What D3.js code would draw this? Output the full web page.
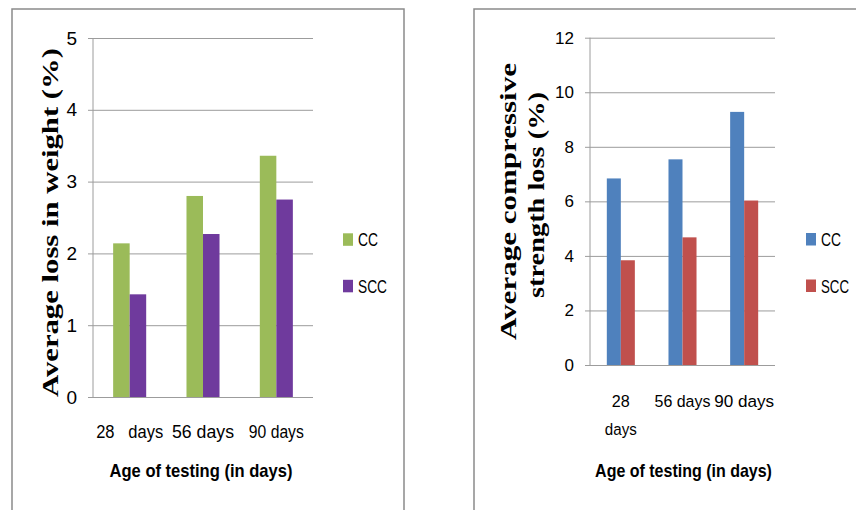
<!DOCTYPE html>
<html>
<head>
<meta charset="utf-8">
<script src="https://cdn.jsdelivr.net/npm/d3@7"></script>
<style>
  html, body { margin: 0; padding: 0; background: #fff; }
  svg { display: block; }
</style>
</head>
<body>
<svg id="chart" width="856" height="510"></svg>
<script>
// ---------- DATA ----------
const categories = ["28 days", "56 days", "90 days"];
const series = ["CC", "SCC"];
const weightCC = [2.14, 2.80, 3.36];
const weightSCC = [1.43, 2.27, 2.75];
const strengthCC = [6.84, 7.54, 9.28];
const strengthSCC = [3.84, 4.68, 6.03];
const weightTicks = [0, 1, 2, 3, 4, 5];
const strengthTicks = [0, 2, 4, 6, 8, 10, 12];
const leftCatLabels = [["28   days"], ["56 days"], ["90 days"]];
const rightCatLabels = [["28", "days"], ["56 days"], ["90 days"]];

const svg = d3.select("#chart");
const SANS = "'Liberation Sans', Arial, sans-serif";
const SERIF = "'Liberation Serif', 'Times New Roman', serif";

// text fitted to a given width by horizontal scaling (keeps a true bounding box)
function addText(g, x, y, str, o) {
  const t = g.append("text")
    .attr("x", 0).attr("y", 0)
    .attr("font-family", o.family || SANS)
    .attr("font-size", o.size)
    .attr("font-weight", o.weight || "normal")
    .attr("text-anchor", o.anchor || "middle")
    .attr("fill", o.fill || "#000")
    .style("white-space", "pre")
    .text(str);
  let sx = 1;
  if (o.width) {
    const natural = t.node().getComputedTextLength();
    if (natural > 0) sx = o.width / natural;
  }
  const rot = o.rotate ? " rotate(-90)" : "";
  t.attr("transform", `translate(${x},${y})${rot} scale(${sx},1)`);
  return t;
}

function drawChart(cfg) {
  const g = svg.append("g");
  // outer frame
  g.append("rect")
    .attr("x", cfg.frame[0]).attr("y", cfg.frame[1])
    .attr("width", cfg.frame[2]).attr("height", cfg.frame[3])
    .attr("fill", "none").attr("stroke", "#8a8a8a").attr("stroke-width", 1.5);

  const x0 = d3.scaleBand().domain(categories).range([cfg.left, cfg.right]).padding(0);
  const x1 = d3.scaleBand().domain(series).range([0, x0.bandwidth()])
    .paddingInner(0).paddingOuter(cfg.outerPad);
  const y = d3.scaleLinear().domain([0, cfg.max]).range([cfg.bottom, cfg.top]);

  // gridlines + tick stubs + labels via axis
  const axis = d3.axisLeft(y).tickValues(cfg.ticks)
    .tickSizeInner(cfg.right - cfg.left + 5).tickSizeOuter(0)
    .tickPadding(cfg.tickPad).tickFormat(d3.format("d"));
  const ag = g.append("g").attr("transform", `translate(${cfg.right},0)`).call(axis);
  ag.select(".domain").remove();
  ag.selectAll(".tick line").attr("stroke", "#9c9c9c").attr("stroke-width", 1);
  ag.selectAll(".tick text")
    .attr("font-family", SANS).attr("font-size", cfg.tickSize).attr("fill", "#000");

  // vertical value axis line
  g.append("line")
    .attr("x1", cfg.left).attr("x2", cfg.left)
    .attr("y1", y(cfg.max)).attr("y2", y(0))
    .attr("stroke", "#9c9c9c").attr("stroke-width", 1);

  // bars
  const rows = categories.map((c, i) => ({ cat: c, vals: [cfg.a[i], cfg.b[i]] }));
  const grp = g.selectAll(".grp").data(rows).join("g")
    .attr("transform", d => `translate(${x0(d.cat)},0)`);
  grp.selectAll("rect").data(d => d.vals.map((v, j) => ({ s: series[j], v })))
    .join("rect")
    .attr("x", d => x1(d.s))
    .attr("width", x1.bandwidth())
    .attr("y", d => y(d.v))
    .attr("height", d => y(0) - y(d.v))
    .attr("fill", (d, j) => cfg.colors[j]);

  // category labels
  categories.forEach((c, i) => {
    const cx = x0(c) + x0.bandwidth() / 2;
    cfg.catLabels[i].forEach((line, k) => {
      addText(g, cx, cfg.catBase + k * cfg.catLineH, line,
        { size: cfg.catSize, width: cfg.catWidths[i][k] });
    });
  });

  // x title
  addText(g, (cfg.left + cfg.right) / 2 + cfg.xTitleShift, 477, "Age of testing (in days)",
    { size: 18, weight: "bold", width: cfg.xTitleW });

  // y title
  cfg.yTitle.forEach(t => {
    addText(g, t.x, t.cy, t.text,
      { size: t.size, weight: "bold", family: SERIF, width: t.w, rotate: true });
  });

  // legend
  series.forEach((s, j) => {
    g.append("rect")
      .attr("x", cfg.legX).attr("y", cfg.legY[j])
      .attr("width", 10).attr("height", 12.5)
      .attr("fill", cfg.colors[j]);
    addText(g, cfg.legX + 15, cfg.legY[j] + 13, s,
      { size: 18, anchor: "start", width: cfg.legW[j] });
  });
}

drawChart({
  frame: [12, 9, 392, 600],
  left: 93, right: 313, top: 38, bottom: 397,
  max: 5, ticks: weightTicks, tickPad: 11, tickSize: 19,
  outerPad: 1.22,
  a: weightCC, b: weightSCC,
  colors: ["#9BBB59", "#6F3A9D"],
  catLabels: leftCatLabels, catBase: 438, catLineH: 0, catSize: 18.5,
  catWidths: [[67], [62], [55]],
  xTitleShift: -2, xTitleW: 183,
  yTitle: [{ text: "Average loss in weight (%)", x: 58, cy: 222.5, size: 24, w: 349 }],
  legX: 343, legY: [233.3, 279.8], legW: [20, 29]
});

drawChart({
  frame: [474, 9, 500, 600],
  left: 590, right: 775, top: 37.7, bottom: 365,
  max: 12, ticks: strengthTicks, tickPad: 11, tickSize: 17,
  outerPad: 1.2,
  a: strengthCC, b: strengthSCC,
  colors: ["#4F81BD", "#C0504D"],
  catLabels: rightCatLabels, catBase: 406.5, catLineH: 28.5, catSize: 17,
  catWidths: [[18, 32], [56], [60]],
  xTitleShift: 1, xTitleW: 177,
  yTitle: [
    { text: "Average compressive", x: 516, cy: 201.5, size: 23, w: 277 },
    { text: "strength loss (%)", x: 544, cy: 195, size: 23, w: 206 }
  ],
  legX: 806, legY: [233, 279.5], legW: [20, 28]
});
</script>
</body>
</html>
